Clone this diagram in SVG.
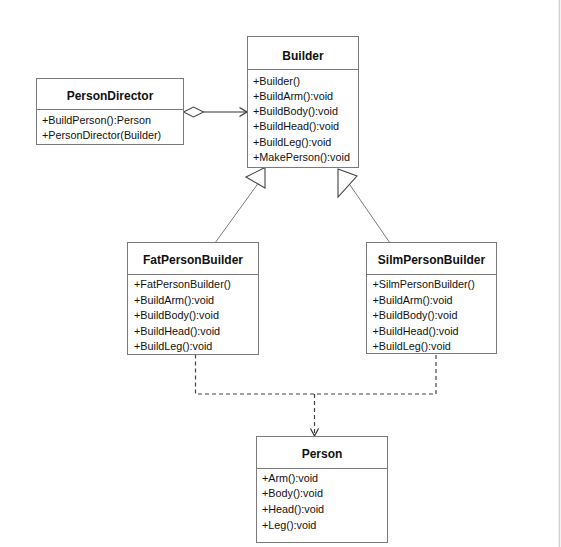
<svg xmlns="http://www.w3.org/2000/svg" width="561" height="547" viewBox="0 0 561 547">
<style>
.box{fill:#fff;stroke:#7a7a7a;stroke-width:1}
.div{stroke:#7a7a7a;stroke-width:1}
.t{font-family:"Liberation Sans",Arial,sans-serif;font-size:12px;font-weight:bold;fill:#111;text-anchor:middle}
.m{font-family:"Liberation Sans",Arial,sans-serif;font-size:10.8px;fill:#111}
.ln{fill:none;stroke:#7a7a7a;stroke-width:1}
.dk{fill:none;stroke:#333;stroke-width:1.2}
.ds{fill:none;stroke:#444;stroke-width:1.2;stroke-dasharray:4 3}
.head{fill:#fff;stroke:#444;stroke-width:1.1}
</style>
<rect width="561" height="547" fill="#fff"/>
<line x1="559.5" y1="0" x2="559.5" y2="547" stroke="#cfcfcf" stroke-width="1.5"/>
<g id="connectors">
  <line class="dk" x1="203.5" y1="112" x2="247" y2="112"/>
  <polyline class="dk" points="239.5,107.5 247,112 239.5,116.5"/>
  <polygon class="head" points="183.5,112 193.5,107 203.5,112 193.5,117"/>
  <line class="ln" x1="215" y1="243" x2="257.8" y2="183.8"/>
  <polygon class="head" points="246,177 265,167.5 265,188"/>
  <line class="ln" x1="390" y1="243" x2="349.5" y2="184.3"/>
  <polygon class="head" points="338,169 357,176 338,197"/>
  <polyline class="ds" points="195.5,354.5 195.5,394 436,394 436,353.5"/>
  <line class="ds" x1="314.5" y1="394" x2="314.5" y2="436"/>
  <polyline class="dk" points="310.5,428.5 314.5,436 318.5,428.5"/>
</g>
<g id="Builder">
  <rect class="box" x="247.5" y="36.5" width="111" height="131"/>
  <line class="div" x1="247.5" y1="69.5" x2="358.5" y2="69.5"/>
  <text class="t" x="303" y="59.5">Builder</text>
  <text class="m" x="253" y="84.5">+Builder()</text>
  <text class="m" x="253" y="99.8">+BuildArm():void</text>
  <text class="m" x="253" y="115.1">+BuildBody():void</text>
  <text class="m" x="253" y="130.4">+BuildHead():void</text>
  <text class="m" x="253" y="145.7">+BuildLeg():void</text>
  <text class="m" x="253" y="161">+MakePerson():void</text>
</g>
<g id="PersonDirector">
  <rect class="box" x="36.5" y="78.5" width="147" height="66"/>
  <line class="div" x1="36.5" y1="109.5" x2="183.5" y2="109.5"/>
  <text class="t" x="110" y="99.5">PersonDirector</text>
  <text class="m" x="42" y="124">+BuildPerson():Person</text>
  <text class="m" x="42" y="139.3">+PersonDirector(Builder)</text>
</g>
<g id="FatPersonBuilder">
  <rect class="box" x="127.5" y="242.5" width="131" height="112"/>
  <line class="div" x1="127.5" y1="274.5" x2="258.5" y2="274.5"/>
  <text class="t" x="193" y="263.5">FatPersonBuilder</text>
  <text class="m" x="134" y="288">+FatPersonBuilder()</text>
  <text class="m" x="134" y="303.6">+BuildArm():void</text>
  <text class="m" x="134" y="319.2">+BuildBody():void</text>
  <text class="m" x="134" y="334.8">+BuildHead():void</text>
  <text class="m" x="134" y="350.4">+BuildLeg():void</text>
</g>
<g id="SilmPersonBuilder">
  <rect class="box" x="366.5" y="242.5" width="130" height="111"/>
  <line class="div" x1="366.5" y1="274.5" x2="496.5" y2="274.5"/>
  <text class="t" x="431.5" y="263.5">SilmPersonBuilder</text>
  <text class="m" x="372.5" y="288">+SilmPersonBuilder()</text>
  <text class="m" x="372.5" y="303.6">+BuildArm():void</text>
  <text class="m" x="372.5" y="319.2">+BuildBody():void</text>
  <text class="m" x="372.5" y="334.8">+BuildHead():void</text>
  <text class="m" x="372.5" y="350.4">+BuildLeg():void</text>
</g>
<g id="Person">
  <rect class="box" x="256.5" y="436.5" width="131" height="106"/>
  <line class="div" x1="256.5" y1="468.5" x2="387.5" y2="468.5"/>
  <text class="t" x="322" y="458">Person</text>
  <text class="m" x="262" y="481.7">+Arm():void</text>
  <text class="m" x="262" y="497.3">+Body():void</text>
  <text class="m" x="262" y="512.9">+Head():void</text>
  <text class="m" x="262" y="528.5">+Leg():void</text>
</g>
</svg>
